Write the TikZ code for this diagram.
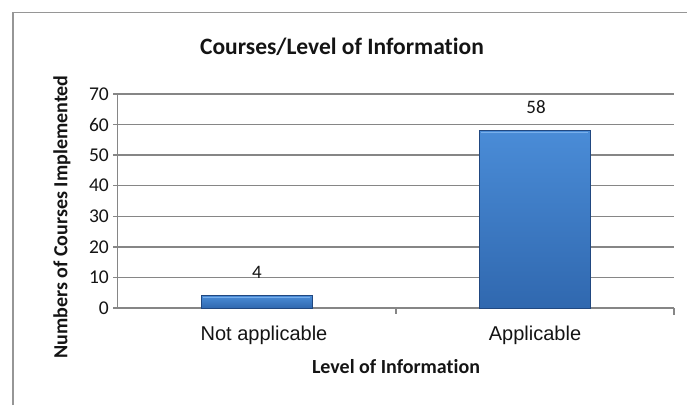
\documentclass[tikz,border=0pt]{standalone}
\usepackage{fontspec}
\setmainfont{Carlito}[Ligatures=NoCommon]
\newfontfamily\arialfont{Liberation Sans}
\usepackage{tikz}
\usetikzlibrary{positioning}
\definecolor{colorgrid}  {RGB}{134,134,134}
\definecolor{colorframe} {RGB}{150,150,150}
\definecolor{colorbartop}{RGB}{74 ,140,215}
\definecolor{colorbarbot}{RGB}{48 ,104,175}
\definecolor{colorbarln} {RGB}{33 ,72 ,128}
\definecolor{colorbevel} {RGB}{120,175,235}
\definecolor{colortext}  {RGB}{20 ,20 ,20 }

\begin{document}
\begin{tikzpicture}[
    x=1pt, y=1pt,
    grid/.style={colorgrid,line width=1.4pt},
    bar/.style={top color=colorbartop,bottom color=colorbarbot,draw=colorbarln,line width=0.6pt},
    bevel/.style={colorbevel,line width=1.2pt},
    ticklbl/.style={text=colortext,font={\fontsize{19.5}{19.5}\selectfont},anchor=east,inner sep=0pt},
    vallbl/.style={text=colortext,font={\fontsize{19}{19}\selectfont},inner sep=0pt},
    catlbl/.style={text=colortext,font={\arialfont\fontsize{20}{20}\selectfont},inner sep=0pt},
    axlbl/.style={text=colortext,font={\bfseries\fontsize{20}{20}\selectfont},inner sep=0pt},
]
    \useasboundingbox (0,0) rectangle (687,405);

    % Frame
    \draw[colorframe,line width=1.2pt] (13,0) -- (13,392.5) -- (687,392.5);

    % Title
    \node[text=colortext,font={\bfseries\fontsize{23.5}{23.5}\selectfont},inner sep=0pt] (title) at (342,358) {Courses/Level of Information};

    % Grid and ticks
    \foreach \v in {0,10,...,70} {
        \draw[grid] (113,97+\v*3.057) -- (674,97+\v*3.057);
        \node[ticklbl] (tick\v) at (109,97+\v*3.057) {\v};
    }
    \draw[grid] (117.5,97) -- (117.5,311);
    \draw[grid] (396,97) -- (396,91);
    \draw[grid] (674,97) -- (674,90);

    % Bars
    \shade[bar] (201,97) rectangle (312,97+4*3.057);
    \draw[bevel] (203,97+4*3.057-2) -- (310,97+4*3.057-2);
    \shade[bar] (479,97) rectangle (590,97+58*3.057);
    \draw[bevel] (481,97+58*3.057-2) -- (588,97+58*3.057-2);
    \node[vallbl] (val1) at (257,133) {4};
    \node[vallbl] (val2) at (536,298) {58};

    % Axis labels
    \node[catlbl] (cat1) at (264,70) {Not applicable};
    \node[catlbl] (cat2) at (535,70) {Applicable};
    \node[axlbl] (xlbl) at (396,38) {Level of Information};
    \node[axlbl,rotate=90] (ylbl) at (62,188) {Numbers of Courses Implemented};

\end{tikzpicture}
\end{document}
